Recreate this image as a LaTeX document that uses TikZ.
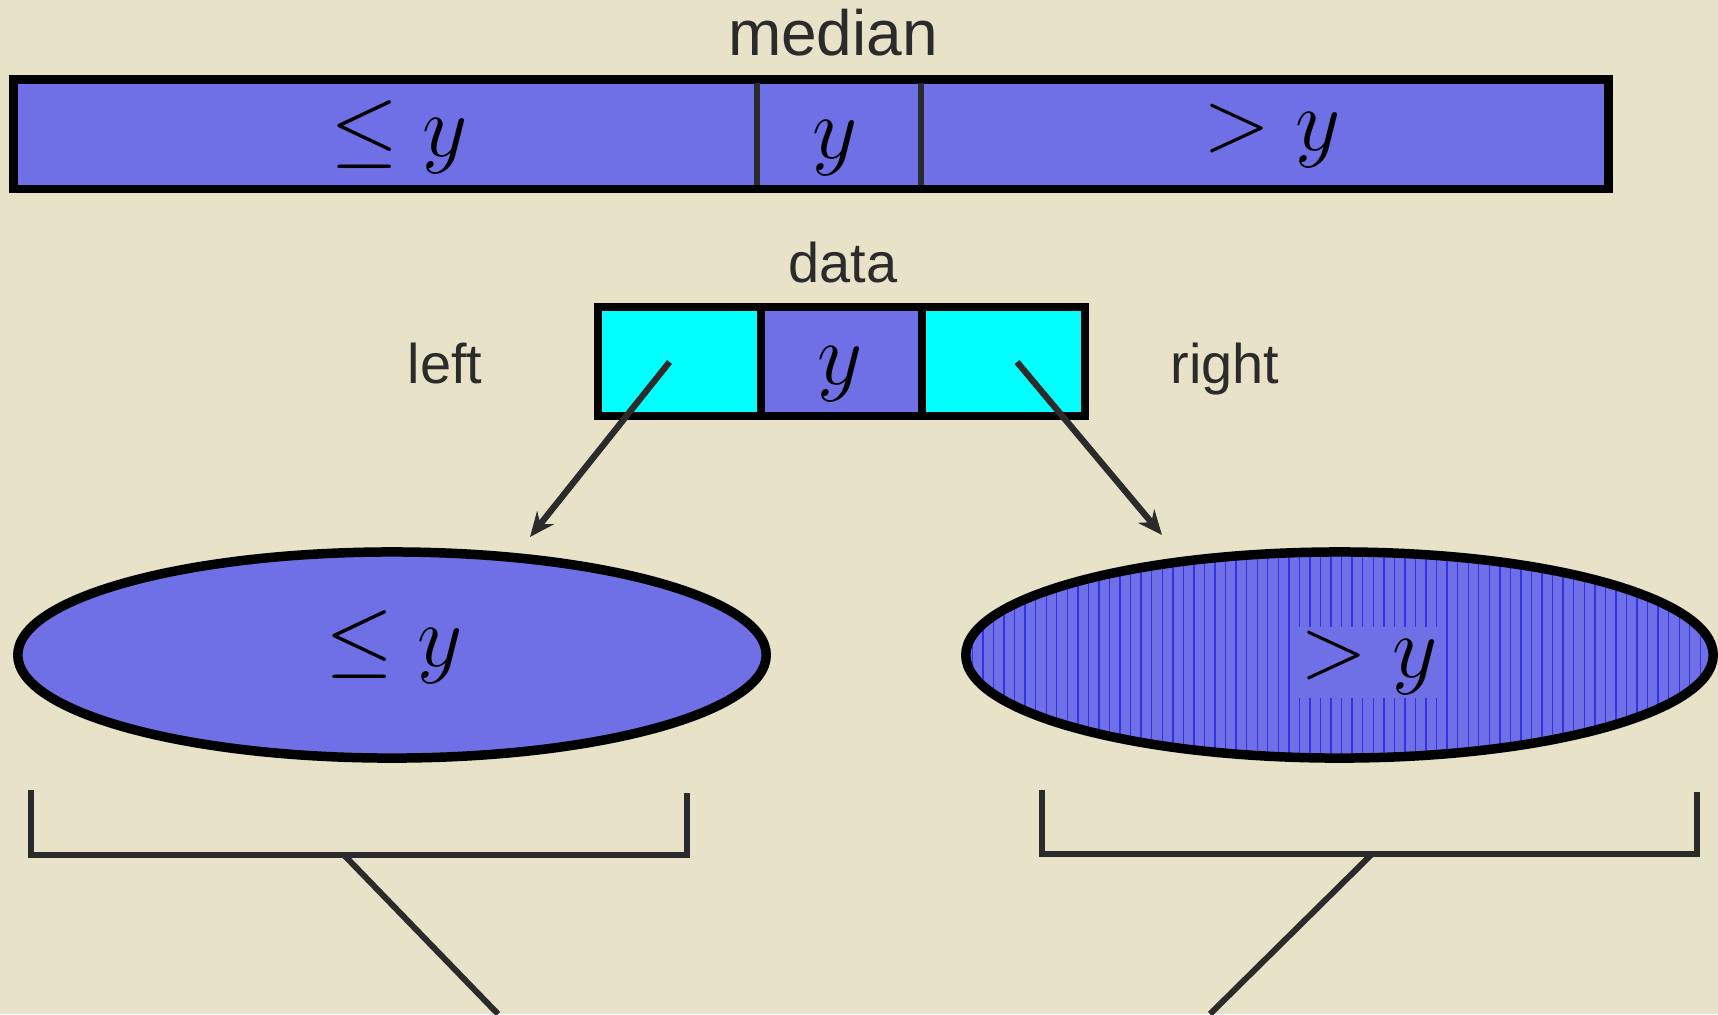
\RequirePackage{fix-cm}
\documentclass[tikz,border=0pt]{standalone}
\usepackage{fontspec}
\setmainfont{Liberation Sans}
\usetikzlibrary{shapes.geometric,arrows.meta,patterns,calc}
\definecolor{bg}{RGB}{232,226,200}
\definecolor{slate}{RGB}{112,112,230}
\definecolor{ink}{RGB}{43,43,43}
\definecolor{stripe}{RGB}{50,50,235}
\definecolor{cyanx}{RGB}{0,255,255}
\tikzset{
  lbl/.style={font=\fontsize{15.9}{18}\selectfont, text=ink, anchor=base, inner sep=0pt},
  biglbl/.style={font=\fontsize{18.2}{21}\selectfont, text=ink, anchor=base, inner sep=0pt},
  mth/.style={font=\fontsize{25}{30}\selectfont, anchor=base, inner sep=0pt},
  cell/.style={draw=black, line width=2.5pt, minimum height=1.09cm, inner sep=0pt},
  oval/.style={ellipse, draw=black, line width=2.7pt, minimum height=2.06cm, inner sep=0pt},
  divider/.style={draw=ink, line width=1.7pt},
  arr/.style={draw=ink, line width=1.8pt, -{Stealth[length=7pt, width=6pt]}},
  brk/.style={draw=ink, line width=1.7pt},
}
\begin{document}
\begin{tikzpicture}[x=0.01cm, y=-0.01cm]
\fill[bg] (0,0) rectangle (1718,1014);
\useasboundingbox (0,0) rectangle (1718,1014);

% top bar
\node[biglbl] (median) at (833,55) {median};
\node[draw=black, line width=2.5pt, fill=slate, minimum width=15.935cm, minimum height=1.095cm, inner sep=0pt] (bar) at (811,134.25) {};
\draw[divider] (757,83) -- (757,185) (921,83) -- (921,185);
\node[mth] (leT) at (399,156) {$\leq y$};
\node[mth] (yT) at (835,158) {$y$};
\node[mth] (gtT) at (1272,150) {$> y$};

% data node
\node[lbl] (data) at (843,282) {data};
\node[lbl] (lleft) at (445,383) {left};
\node[lbl] (lright) at (1225,383) {right};
\node[cell, fill=cyanx, minimum width=1.63cm] (lc) at (679.5,361.5) {};
\node[cell, fill=slate, minimum width=1.61cm] (mc) at (841.5,361.5) {};
\node[cell, fill=cyanx, minimum width=1.63cm] (rc) at (1003.5,361.5) {};
\node[mth] (yM) at (840,384) {$y$};

% arrows
\coordinate (lt) at (530,537);
\coordinate (rt) at (1162,535);
\draw[arr] ($(lc.center)+(-10,0.5)$) -- (lt);
\draw[arr] ($(rc.center)+(13.5,0.5)$) -- (rt);

% ellipses
\node[oval, fill=slate, minimum width=7.48cm] (le) at (392,655) {};
\node[mth] (leE) at (394,666) {$\leq y$};
\node[oval, preaction={fill=slate}, pattern=vertical lines, pattern color=stripe, minimum width=7.47cm] (re) at (1339.5,655) {};
\node[mth, fill=slate, inner sep=1pt] (gtE) at (1369,677) {$> y$};

% brackets
\draw[brk] (31,790) -- (31,855) -- (687,855) -- (687,793);
\coordinate (ls) at (344,855);
\coordinate (le2) at (498,1014);
\draw[brk] (ls) -- (le2);
\draw[brk] (1042,790) -- (1042,854) -- (1697,854) -- (1697,792);
\coordinate (rs) at (1372,854);
\coordinate (re2) at (1210,1014);
\draw[brk] (rs) -- (re2);
\end{tikzpicture}
\end{document}
